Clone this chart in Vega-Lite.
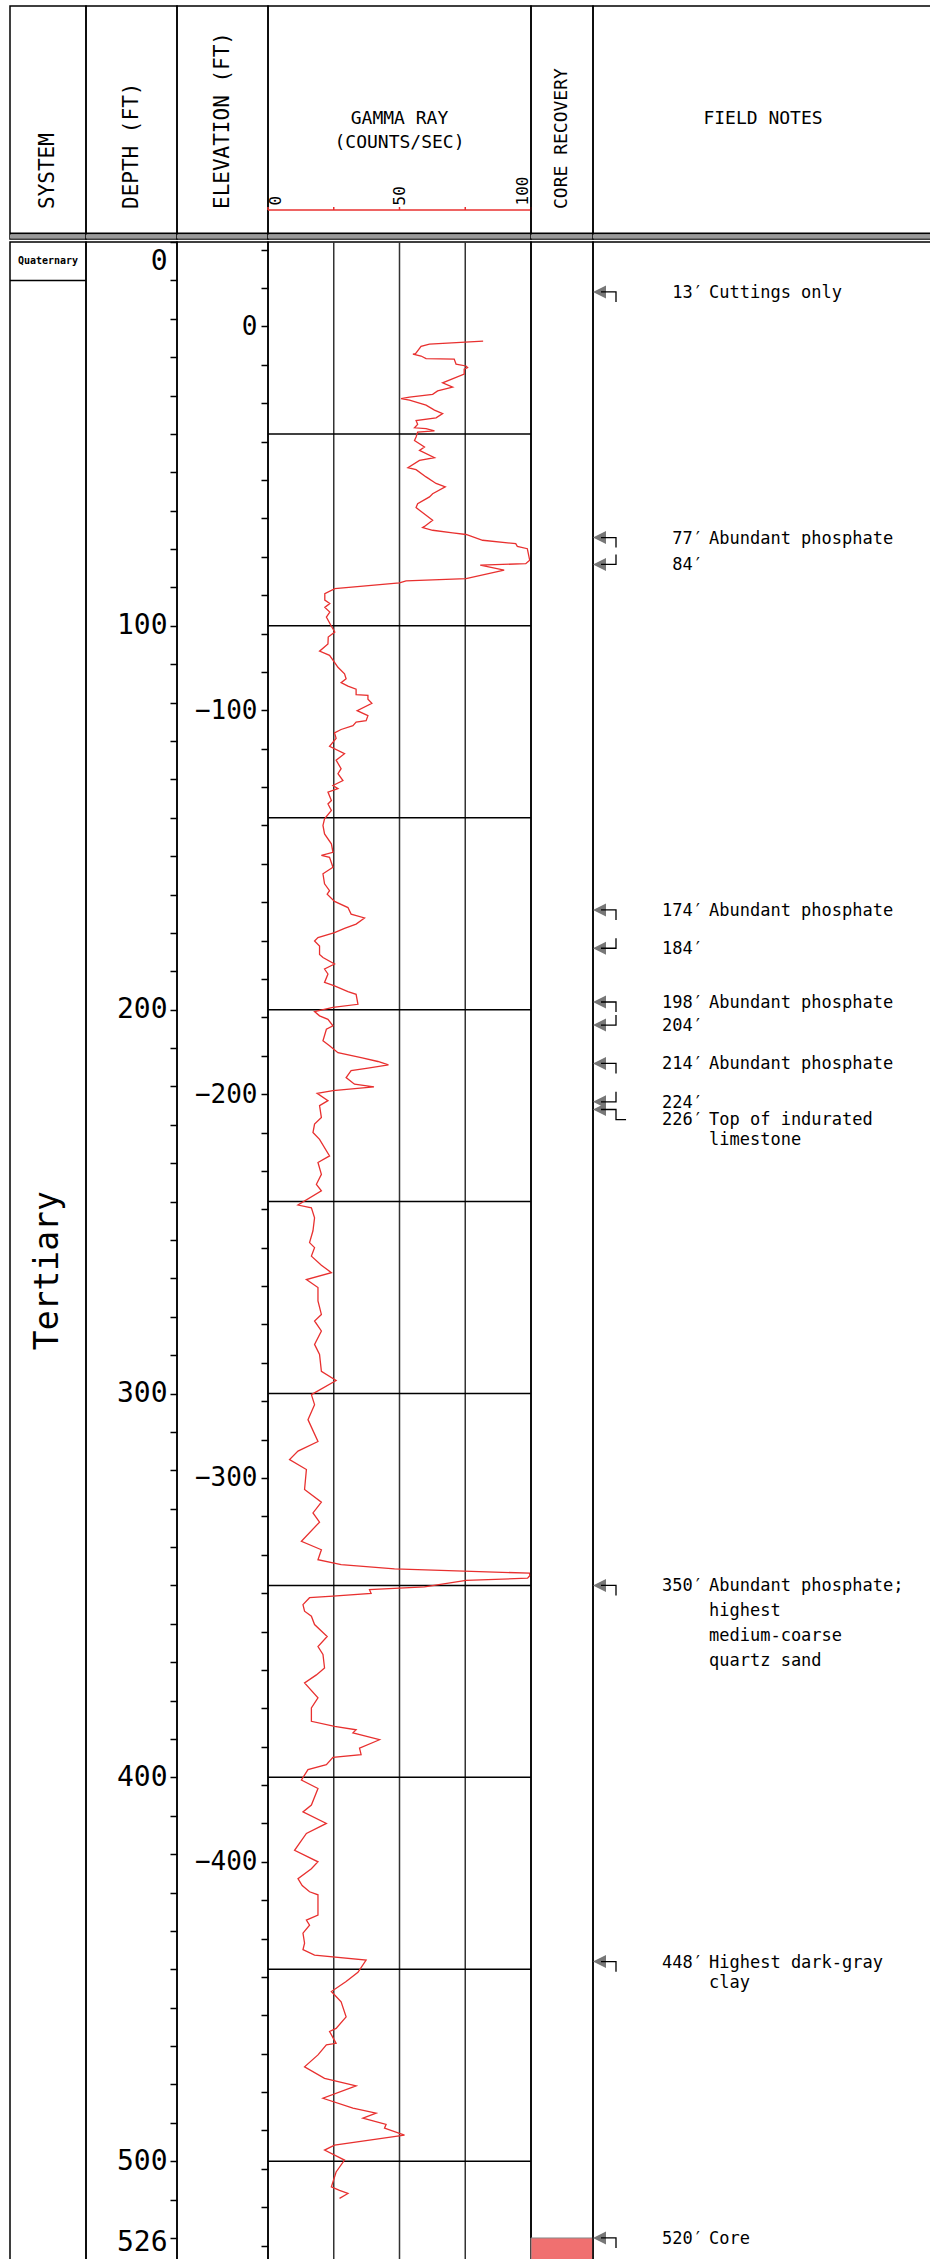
{
  "$schema": "https://vega.github.io/schema/vega-lite/v6.json",
  "padding": {"left": 7, "top": 5, "right": 0, "bottom": 2},
  "background": "white",
  "config": {
    "view": {"stroke": "black", "strokeWidth": 1.5},
    "font": "DejaVu Sans Mono",
    "text": {"font": "DejaVu Sans Mono", "color": "black"},
    "axis": {"labelFont": "DejaVu Sans Mono", "labelColor": "black", "tickColor": "black"}
  },
  "data": {"values": [{}]},
  "datasets": {
    "gamma": [
      {"depth": 25.8, "gamma": 81.8}, {"depth": 26.6, "gamma": 61.4}, {"depth": 27.2, "gamma": 58.2}, {"depth": 29.1, "gamma": 56.1},
      {"depth": 29.2, "gamma": 55.1}, {"depth": 29.7, "gamma": 58.2}, {"depth": 30.4, "gamma": 60.1}, {"depth": 30.5, "gamma": 70.8},
      {"depth": 31.8, "gamma": 71.5}, {"depth": 32.3, "gamma": 75.3}, {"depth": 32.7, "gamma": 75.9}, {"depth": 33.1, "gamma": 74.6},
      {"depth": 34.4, "gamma": 74.6}, {"depth": 36.7, "gamma": 66.4}, {"depth": 37.8, "gamma": 70.2}, {"depth": 38.8, "gamma": 64.5},
      {"depth": 39.7, "gamma": 62.6}, {"depth": 40.4, "gamma": 53.8}, {"depth": 40.8, "gamma": 50.6}, {"depth": 41.2, "gamma": 53.8},
      {"depth": 42.5, "gamma": 60.1}, {"depth": 43.8, "gamma": 63.3}, {"depth": 44.7, "gamma": 66.4}, {"depth": 45.8, "gamma": 63.9},
      {"depth": 46.5, "gamma": 56.3}, {"depth": 47.5, "gamma": 56.9}, {"depth": 48.4, "gamma": 55.7}, {"depth": 48.6, "gamma": 60.1},
      {"depth": 49.2, "gamma": 63.3}, {"depth": 49.5, "gamma": 56.9}, {"depth": 50.8, "gamma": 56.3}, {"depth": 51.7, "gamma": 55.7},
      {"depth": 53.4, "gamma": 59.5}, {"depth": 54.3, "gamma": 57.6}, {"depth": 56.2, "gamma": 63.3}, {"depth": 56.9, "gamma": 57.6},
      {"depth": 58.8, "gamma": 53.2}, {"depth": 59.3, "gamma": 56.3}, {"depth": 61.2, "gamma": 60.1}, {"depth": 62.9, "gamma": 63.9},
      {"depth": 63.8, "gamma": 67.4}, {"depth": 65.6, "gamma": 62.6}, {"depth": 66.4, "gamma": 61.4}, {"depth": 68.2, "gamma": 56.9},
      {"depth": 69.2, "gamma": 56.3}, {"depth": 71.2, "gamma": 60.1}, {"depth": 72.5, "gamma": 62.6}, {"depth": 74.1, "gamma": 59.5},
      {"depth": 74.4, "gamma": 58.8}, {"depth": 75.1, "gamma": 62.6}, {"depth": 75.8, "gamma": 70.2}, {"depth": 76.2, "gamma": 75.3},
      {"depth": 77.7, "gamma": 81.6}, {"depth": 78.6, "gamma": 94.2}, {"depth": 79.3, "gamma": 94.8}, {"depth": 79.9, "gamma": 98.6},
      {"depth": 82.9, "gamma": 99.5}, {"depth": 83.8, "gamma": 98.0}, {"depth": 84.2, "gamma": 80.7}, {"depth": 85.5, "gamma": 89.8},
      {"depth": 87.7, "gamma": 75.3}, {"depth": 88.3, "gamma": 52.5}, {"depth": 88.8, "gamma": 50.0}, {"depth": 90.3, "gamma": 25.4},
      {"depth": 91.6, "gamma": 21.6}, {"depth": 93.3, "gamma": 21.6}, {"depth": 94.2, "gamma": 23.5}, {"depth": 95.2, "gamma": 21.6},
      {"depth": 96.4, "gamma": 23.5}, {"depth": 97.7, "gamma": 22.2}, {"depth": 100.1, "gamma": 24.1}, {"depth": 101.6, "gamma": 25.4},
      {"depth": 102.9, "gamma": 22.9}, {"depth": 104.7, "gamma": 22.8}, {"depth": 106.6, "gamma": 19.6}, {"depth": 107.7, "gamma": 23.4},
      {"depth": 109.5, "gamma": 25.3}, {"depth": 110.8, "gamma": 26.6}, {"depth": 112.5, "gamma": 29.1}, {"depth": 113.8, "gamma": 29.7},
      {"depth": 114.8, "gamma": 27.8}, {"depth": 115.7, "gamma": 30.4}, {"depth": 116.5, "gamma": 33.5}, {"depth": 117.9, "gamma": 33.5},
      {"depth": 118.1, "gamma": 38.0}, {"depth": 119.1, "gamma": 38.0}, {"depth": 120.2, "gamma": 39.5}, {"depth": 122.1, "gamma": 33.9},
      {"depth": 123.4, "gamma": 38.0}, {"depth": 124.7, "gamma": 37.3}, {"depth": 125.1, "gamma": 33.5}, {"depth": 126.0, "gamma": 32.3},
      {"depth": 127.0, "gamma": 27.8}, {"depth": 127.9, "gamma": 25.3}, {"depth": 129.3, "gamma": 25.9}, {"depth": 131.4, "gamma": 23.4},
      {"depth": 133.3, "gamma": 29.1}, {"depth": 135.0, "gamma": 25.9}, {"depth": 137.2, "gamma": 27.8}, {"depth": 138.5, "gamma": 26.6},
      {"depth": 140.3, "gamma": 28.5}, {"depth": 141.6, "gamma": 24.7}, {"depth": 142.4, "gamma": 26.6}, {"depth": 143.3, "gamma": 22.8},
      {"depth": 145.5, "gamma": 24.1}, {"depth": 146.4, "gamma": 22.8}, {"depth": 148.1, "gamma": 24.1}, {"depth": 150.3, "gamma": 21.5},
      {"depth": 152.0, "gamma": 20.9}, {"depth": 154.2, "gamma": 21.5}, {"depth": 156.8, "gamma": 24.1}, {"depth": 159.0, "gamma": 24.7},
      {"depth": 159.8, "gamma": 20.3}, {"depth": 160.3, "gamma": 23.4}, {"depth": 162.9, "gamma": 24.7}, {"depth": 164.6, "gamma": 20.9},
      {"depth": 167.2, "gamma": 21.5}, {"depth": 169.0, "gamma": 23.4}, {"depth": 169.9, "gamma": 22.5}, {"depth": 171.8, "gamma": 25.3},
      {"depth": 173.4, "gamma": 30.4}, {"depth": 175.1, "gamma": 31.6}, {"depth": 176.1, "gamma": 36.7}, {"depth": 177.7, "gamma": 33.5},
      {"depth": 178.8, "gamma": 29.1}, {"depth": 179.9, "gamma": 25.3}, {"depth": 181.2, "gamma": 19.0}, {"depth": 182.1, "gamma": 17.7},
      {"depth": 183.4, "gamma": 19.6}, {"depth": 185.6, "gamma": 19.6}, {"depth": 186.4, "gamma": 20.9}, {"depth": 188.1, "gamma": 25.3},
      {"depth": 189.4, "gamma": 21.5}, {"depth": 190.7, "gamma": 22.8}, {"depth": 192.9, "gamma": 21.5}, {"depth": 193.8, "gamma": 25.3},
      {"depth": 195.3, "gamma": 30.4}, {"depth": 196.0, "gamma": 33.5}, {"depth": 198.6, "gamma": 34.2}, {"depth": 199.4, "gamma": 24.7},
      {"depth": 200.5, "gamma": 17.7}, {"depth": 201.6, "gamma": 19.6}, {"depth": 202.5, "gamma": 22.8}, {"depth": 204.2, "gamma": 24.7},
      {"depth": 205.1, "gamma": 22.2}, {"depth": 208.1, "gamma": 20.9}, {"depth": 209.4, "gamma": 23.4}, {"depth": 211.2, "gamma": 26.6},
      {"depth": 212.5, "gamma": 35.4}, {"depth": 213.5, "gamma": 41.8}, {"depth": 214.4, "gamma": 45.8}, {"depth": 215.2, "gamma": 38.0},
      {"depth": 215.9, "gamma": 31.6}, {"depth": 217.7, "gamma": 29.7}, {"depth": 219.4, "gamma": 32.9}, {"depth": 220.1, "gamma": 40.3},
      {"depth": 221.1, "gamma": 24.7}, {"depth": 221.8, "gamma": 18.7}, {"depth": 223.7, "gamma": 22.8}, {"depth": 225.0, "gamma": 19.6},
      {"depth": 228.1, "gamma": 20.3}, {"depth": 229.8, "gamma": 17.7}, {"depth": 232.0, "gamma": 17.1}, {"depth": 233.8, "gamma": 19.6},
      {"depth": 238.1, "gamma": 23.4}, {"depth": 239.8, "gamma": 19.0}, {"depth": 242.9, "gamma": 20.3}, {"depth": 245.5, "gamma": 18.4},
      {"depth": 247.2, "gamma": 20.3}, {"depth": 250.9, "gamma": 11.4}, {"depth": 251.6, "gamma": 16.5}, {"depth": 254.2, "gamma": 17.7},
      {"depth": 257.6, "gamma": 17.1}, {"depth": 260.7, "gamma": 15.8}, {"depth": 262.0, "gamma": 17.7}, {"depth": 264.2, "gamma": 16.5},
      {"depth": 266.6, "gamma": 20.3}, {"depth": 268.5, "gamma": 24.1}, {"depth": 270.3, "gamma": 14.6}, {"depth": 272.4, "gamma": 19.0},
      {"depth": 275.9, "gamma": 19.0}, {"depth": 279.4, "gamma": 20.3}, {"depth": 281.1, "gamma": 17.7}, {"depth": 283.7, "gamma": 20.3},
      {"depth": 287.2, "gamma": 17.7}, {"depth": 289.8, "gamma": 19.6}, {"depth": 294.2, "gamma": 20.3}, {"depth": 296.6, "gamma": 25.9},
      {"depth": 300.3, "gamma": 16.5}, {"depth": 302.9, "gamma": 17.7}, {"depth": 306.8, "gamma": 15.2}, {"depth": 312.5, "gamma": 19.0},
      {"depth": 315.0, "gamma": 11.4}, {"depth": 317.2, "gamma": 8.2}, {"depth": 319.8, "gamma": 14.6}, {"depth": 325.0, "gamma": 13.9},
      {"depth": 328.3, "gamma": 20.3}, {"depth": 331.1, "gamma": 17.1}, {"depth": 333.5, "gamma": 19.6}, {"depth": 338.5, "gamma": 12.7},
      {"depth": 340.7, "gamma": 20.3}, {"depth": 343.3, "gamma": 19.0}, {"depth": 344.6, "gamma": 27.8}, {"depth": 345.7, "gamma": 48.1},
      {"depth": 346.8, "gamma": 99.4}, {"depth": 347.4, "gamma": 99.6}, {"depth": 348.1, "gamma": 98.7}, {"depth": 348.7, "gamma": 75.3},
      {"depth": 350.4, "gamma": 59.5}, {"depth": 351.1, "gamma": 38.6}, {"depth": 352.1, "gamma": 39.2}, {"depth": 352.8, "gamma": 24.7},
      {"depth": 353.2, "gamma": 15.8}, {"depth": 355.0, "gamma": 13.3}, {"depth": 356.7, "gamma": 13.9}, {"depth": 358.0, "gamma": 16.5},
      {"depth": 360.2, "gamma": 17.7}, {"depth": 363.3, "gamma": 22.5}, {"depth": 365.9, "gamma": 19.0}, {"depth": 368.0, "gamma": 20.9},
      {"depth": 371.5, "gamma": 21.5}, {"depth": 373.3, "gamma": 18.4}, {"depth": 375.4, "gamma": 13.9}, {"depth": 379.3, "gamma": 19.0},
      {"depth": 381.9, "gamma": 16.5}, {"depth": 385.4, "gamma": 16.5}, {"depth": 386.7, "gamma": 25.3}, {"depth": 387.6, "gamma": 33.5},
      {"depth": 388.4, "gamma": 32.3}, {"depth": 390.2, "gamma": 42.4}, {"depth": 392.4, "gamma": 34.8}, {"depth": 394.1, "gamma": 35.4},
      {"depth": 394.8, "gamma": 24.7}, {"depth": 396.7, "gamma": 22.2}, {"depth": 398.0, "gamma": 15.2}, {"depth": 400.7, "gamma": 12.7},
      {"depth": 402.9, "gamma": 19.0}, {"depth": 407.2, "gamma": 16.5}, {"depth": 409.0, "gamma": 13.3}, {"depth": 412.0, "gamma": 22.2},
      {"depth": 414.6, "gamma": 14.6}, {"depth": 419.0, "gamma": 10.1}, {"depth": 422.0, "gamma": 19.0}, {"depth": 423.8, "gamma": 16.5},
      {"depth": 426.4, "gamma": 11.4}, {"depth": 428.2, "gamma": 13.0}, {"depth": 429.8, "gamma": 15.8}, {"depth": 430.6, "gamma": 19.0},
      {"depth": 435.9, "gamma": 19.0}, {"depth": 437.2, "gamma": 14.6}, {"depth": 438.5, "gamma": 15.8}, {"depth": 440.6, "gamma": 13.3},
      {"depth": 443.2, "gamma": 13.9}, {"depth": 444.9, "gamma": 13.3}, {"depth": 446.3, "gamma": 17.7}, {"depth": 447.6, "gamma": 37.3},
      {"depth": 450.8, "gamma": 34.2}, {"depth": 453.2, "gamma": 29.7}, {"depth": 455.8, "gamma": 24.1}, {"depth": 458.5, "gamma": 27.8},
      {"depth": 462.4, "gamma": 29.7}, {"depth": 465.4, "gamma": 25.9}, {"depth": 466.2, "gamma": 23.4}, {"depth": 469.3, "gamma": 25.9},
      {"depth": 469.7, "gamma": 22.2}, {"depth": 472.3, "gamma": 19.0}, {"depth": 475.4, "gamma": 13.9}, {"depth": 478.4, "gamma": 21.5},
      {"depth": 480.4, "gamma": 33.5}, {"depth": 483.6, "gamma": 20.9}, {"depth": 486.2, "gamma": 32.3}, {"depth": 487.5, "gamma": 41.1},
      {"depth": 488.8, "gamma": 36.1}, {"depth": 490.4, "gamma": 44.9}, {"depth": 491.4, "gamma": 44.3}, {"depth": 493.2, "gamma": 51.9},
      {"depth": 495.8, "gamma": 25.3}, {"depth": 497.1, "gamma": 21.5}, {"depth": 499.7, "gamma": 29.1}, {"depth": 502.8, "gamma": 25.9},
      {"depth": 506.7, "gamma": 24.1}, {"depth": 507.6, "gamma": 27.2}, {"depth": 508.4, "gamma": 30.4}, {"depth": 509.7, "gamma": 27.2}
    ],
    "notes": [
      {"depth": 13, "kind": "top", "label": "13′", "note": ["Cuttings only"]},
      {"depth": 77, "kind": "top", "label": "77′", "note": ["Abundant phosphate"]},
      {"depth": 84, "kind": "bottom", "label": "84′", "note": [""]},
      {"depth": 174, "kind": "top", "label": "174′", "note": ["Abundant phosphate"]},
      {"depth": 184, "kind": "bottom", "label": "184′", "note": [""]},
      {"depth": 198, "kind": "top", "label": "198′", "note": ["Abundant phosphate"]},
      {"depth": 204, "kind": "bottom", "label": "204′", "note": [""]},
      {"depth": 214, "kind": "top", "label": "214′", "note": ["Abundant phosphate"]},
      {"depth": 224, "kind": "bottom", "label": "224′", "note": [""]},
      {"depth": 226, "kind": "offset", "label": "226′", "note": ["Top of indurated", "limestone"]},
      {"depth": 350, "kind": "top", "label": "350′", "note": ["Abundant phosphate;", "highest", "medium-coarse", "quartz sand"]},
      {"depth": 448, "kind": "top", "label": "448′", "note": ["Highest dark-gray", "clay"]},
      {"depth": 520, "kind": "top", "label": "520′", "note": ["Core"]}
    ]
  },
  "spacing": 0,
  "vconcat": [
    {
      "spacing": 0,
      "bounds": "flush",
      "hconcat": [
        {
          "width": 76, "height": 233,
          "layer": [
            {"mark": {"type": "text", "text": "SYSTEM", "angle": 270, "align": "left", "baseline": "middle", "fontSize": 21},
             "encoding": {"y": {"datum": 203, "type": "quantitative", "scale": {"domain": [0, 233], "reverse": true, "nice": false, "zero": false}, "axis": null}}},
            {"mark": {"type": "rule", "color": "black", "strokeWidth": 2}, "encoding": {"y": {"datum": 227.5, "type": "quantitative"}}},
            {"mark": {"type": "rule", "color": "#999999", "strokeWidth": 4}, "encoding": {"y": {"datum": 230.5, "type": "quantitative"}}}
          ]
        },
        {
          "width": 91, "height": 233,
          "layer": [
            {"mark": {"type": "text", "text": "DEPTH (FT)", "angle": 270, "align": "left", "baseline": "middle", "fontSize": 21},
             "encoding": {"y": {"datum": 203, "type": "quantitative", "scale": {"domain": [0, 233], "reverse": true, "nice": false, "zero": false}, "axis": null}}},
            {"mark": {"type": "rule", "color": "black", "strokeWidth": 2}, "encoding": {"y": {"datum": 227.5, "type": "quantitative"}}},
            {"mark": {"type": "rule", "color": "#999999", "strokeWidth": 4}, "encoding": {"y": {"datum": 230.5, "type": "quantitative"}}}
          ]
        },
        {
          "width": 91, "height": 233,
          "layer": [
            {"mark": {"type": "text", "text": "ELEVATION (FT)", "angle": 270, "align": "left", "baseline": "middle", "fontSize": 21},
             "encoding": {"y": {"datum": 203, "type": "quantitative", "scale": {"domain": [0, 233], "reverse": true, "nice": false, "zero": false}, "axis": null}}},
            {"mark": {"type": "rule", "color": "black", "strokeWidth": 2}, "encoding": {"y": {"datum": 227.5, "type": "quantitative"}}},
            {"mark": {"type": "rule", "color": "#999999", "strokeWidth": 4}, "encoding": {"y": {"datum": 230.5, "type": "quantitative"}}}
          ]
        },
        {
          "width": 263, "height": 233,
          "layer": [
            {"mark": {"type": "text", "text": "GAMMA RAY", "align": "center", "baseline": "middle", "fontSize": 18},
             "encoding": {"y": {"datum": 113, "type": "quantitative", "scale": {"domain": [0, 233], "reverse": true, "nice": false, "zero": false}, "axis": null}}},
            {"mark": {"type": "text", "text": "(COUNTS/SEC)", "align": "center", "baseline": "middle", "fontSize": 18},
             "encoding": {"y": {"datum": 137, "type": "quantitative"}}},
            {"mark": {"type": "rule", "color": "#e8302f", "strokeWidth": 1.5},
             "encoding": {"x": {"datum": 0, "type": "quantitative", "scale": {"domain": [0, 100], "nice": false, "zero": false}, "axis": null}, "x2": {"datum": 100}, "y": {"datum": 204, "type": "quantitative"}}},
            {"data": {"values": [{"v": 0}, {"v": 25}, {"v": 50}, {"v": 75}, {"v": 100}]},
             "mark": {"type": "rule", "color": "#e8302f", "strokeWidth": 1.5},
             "encoding": {"x": {"field": "v", "type": "quantitative"}, "y": {"datum": 201, "type": "quantitative"}, "y2": {"datum": 204}}},
            {"mark": {"type": "text", "text": "0", "angle": 270, "align": "left", "baseline": "top", "fontSize": 16},
             "encoding": {"x": {"datum": 0, "type": "quantitative"}, "y": {"datum": 199.5, "type": "quantitative"}}},
            {"mark": {"type": "text", "text": "50", "angle": 270, "align": "left", "baseline": "middle", "fontSize": 16},
             "encoding": {"x": {"datum": 50, "type": "quantitative"}, "y": {"datum": 199.5, "type": "quantitative"}}},
            {"mark": {"type": "text", "text": "100", "angle": 270, "align": "left", "baseline": "bottom", "fontSize": 16},
             "encoding": {"x": {"datum": 100, "type": "quantitative"}, "y": {"datum": 199.5, "type": "quantitative"}}},
            {"mark": {"type": "rule", "color": "black", "strokeWidth": 2}, "encoding": {"y": {"datum": 227.5, "type": "quantitative"}}},
            {"mark": {"type": "rule", "color": "#999999", "strokeWidth": 4}, "encoding": {"y": {"datum": 230.5, "type": "quantitative"}}}
          ]
        },
        {
          "width": 62, "height": 233,
          "layer": [
            {"mark": {"type": "text", "text": "CORE RECOVERY", "angle": 270, "align": "left", "baseline": "middle", "fontSize": 18},
             "encoding": {"y": {"datum": 203, "type": "quantitative", "scale": {"domain": [0, 233], "reverse": true, "nice": false, "zero": false}, "axis": null}}},
            {"mark": {"type": "rule", "color": "black", "strokeWidth": 2}, "encoding": {"y": {"datum": 227.5, "type": "quantitative"}}},
            {"mark": {"type": "rule", "color": "#999999", "strokeWidth": 4}, "encoding": {"y": {"datum": 230.5, "type": "quantitative"}}}
          ]
        },
        {
          "width": 340, "height": 233,
          "layer": [
            {"mark": {"type": "text", "text": "FIELD NOTES", "align": "center", "baseline": "middle", "fontSize": 18},
             "encoding": {"y": {"datum": 113, "type": "quantitative", "scale": {"domain": [0, 233], "reverse": true, "nice": false, "zero": false}, "axis": null}}},
            {"mark": {"type": "rule", "color": "black", "strokeWidth": 2}, "encoding": {"y": {"datum": 227.5, "type": "quantitative"}}},
            {"mark": {"type": "rule", "color": "#999999", "strokeWidth": 4}, "encoding": {"y": {"datum": 230.5, "type": "quantitative"}}}
          ]
        }
      ]
    },
    {
      "spacing": 0,
      "bounds": "flush",
      "hconcat": [
        {
          "width": 76, "height": 2019,
          "layer": [
            {"mark": {"type": "rule", "color": "black", "strokeWidth": 1.5},
             "encoding": {"y": {"datum": 10, "type": "quantitative", "scale": {"domain": [0, 526], "reverse": true, "nice": false, "zero": false}, "axis": null}}},
            {"mark": {"type": "text", "text": "Quaternary", "fontSize": 10, "fontWeight": "bold", "align": "center", "baseline": "middle"},
             "encoding": {"y": {"datum": 5, "type": "quantitative"}}},
            {"mark": {"type": "text", "text": "Tertiary", "fontSize": 33, "angle": 270, "align": "center", "baseline": "middle"},
             "encoding": {"y": {"datum": 268, "type": "quantitative"}}}
          ]
        },
        {
          "width": 91, "height": 2019,
          "mark": {"type": "rule", "opacity": 0},
          "encoding": {
            "y": {"datum": 0, "type": "quantitative",
                  "scale": {"domain": [0, 526], "reverse": true, "nice": false, "zero": false},
                  "axis": {"orient": "left", "offset": -91, "title": null, "domain": false, "grid": false,
                           "values": [0,10,20,30,40,50,60,70,80,90,100,110,120,130,140,150,160,170,180,190,200,210,220,230,240,250,260,270,280,290,300,310,320,330,340,350,360,370,380,390,400,410,420,430,440,450,460,470,480,490,500,510,520,526],
                           "format": "d",
                           "labelExpr": "(datum.value % 100 === 0 || datum.value === 526) ? datum.label : ''",
                           "labelFontSize": {"condition": {"test": "datum.value % 100 === 0 || datum.value === 526", "value": 28}, "value": 0},
                           "tickSize": 7, "tickWidth": 1.5, "labelPadding": 3,
                           "labelFlush": true, "labelFlushOffset": -5, "labelOverlap": false, "labelBound": false}}
          }
        },
        {
          "width": 91, "height": 2019,
          "mark": {"type": "rule", "opacity": 0},
          "encoding": {
            "y": {"datum": 0, "type": "quantitative",
                  "scale": {"domain": [-504, 22], "nice": false, "zero": false},
                  "axis": {"orient": "left", "offset": -91, "title": null, "domain": false, "grid": false,
                           "values": [20,10,0,-10,-20,-30,-40,-50,-60,-70,-80,-90,-100,-110,-120,-130,-140,-150,-160,-170,-180,-190,-200,-210,-220,-230,-240,-250,-260,-270,-280,-290,-300,-310,-320,-330,-340,-350,-360,-370,-380,-390,-400,-410,-420,-430,-440,-450,-460,-470,-480,-490,-500],
                           "format": "d",
                           "labelExpr": "(datum.value % 100 === 0 && datum.value > -500) ? datum.label : ''",
                           "labelFontSize": {"condition": {"test": "datum.value % 100 === 0 && datum.value > -500", "value": 26}, "value": 0},
                           "tickSize": 7, "tickWidth": 1.5, "labelPadding": 4,
                           "labelFlush": false, "labelOverlap": false, "labelBound": false}}
          }
        },
        {
          "width": 263, "height": 2019,
          "layer": [
            {"data": {"values": [{"g": 25}, {"g": 50}, {"g": 75}]},
             "mark": {"type": "rule", "color": "#333333", "strokeWidth": 1.5},
             "encoding": {"x": {"field": "g", "type": "quantitative", "scale": {"domain": [0, 100], "nice": false, "zero": false}, "axis": null}}},
            {"data": {"values": [{"d": 50}, {"d": 100}, {"d": 150}, {"d": 200}, {"d": 250}, {"d": 300}, {"d": 350}, {"d": 400}, {"d": 450}, {"d": 500}]},
             "mark": {"type": "rule", "color": "black", "strokeWidth": 1.5},
             "encoding": {"y": {"field": "d", "type": "quantitative", "scale": {"domain": [0, 526], "reverse": true, "nice": false, "zero": false}, "axis": null}}},
            {"data": {"name": "gamma"},
             "mark": {"type": "line", "color": "#e8302f", "strokeWidth": 1.3},
             "encoding": {
               "x": {"field": "gamma", "type": "quantitative"},
               "y": {"field": "depth", "type": "quantitative"},
               "order": {"field": "depth", "type": "quantitative"}
             }}
          ]
        },
        {
          "width": 62, "height": 2019,
          "data": {"values": [{"top": 520, "base": 526}]},
          "mark": {"type": "rect", "fill": "#f07070", "stroke": "#888888", "strokeWidth": 1},
          "encoding": {
            "y": {"field": "top", "type": "quantitative", "scale": {"domain": [0, 526], "reverse": true, "nice": false, "zero": false}, "axis": null},
            "y2": {"field": "base"}
          }
        },
        {
          "width": 340, "height": 2019,
          "data": {"name": "notes"},
          "layer": [
            {"mark": {"type": "point", "shape": "M -1 0 L 1 -1 L 1 1 Z", "filled": true, "fill": "#777777", "strokeWidth": 0, "size": 169, "opacity": 1},
             "encoding": {
               "x": {"datum": 6.5, "type": "quantitative", "scale": {"domain": [0, 340], "nice": false, "zero": false}, "axis": null},
               "y": {"field": "depth", "type": "quantitative", "scale": {"domain": [0, 526], "reverse": true, "nice": false, "zero": false}, "axis": null}
             }},
            {"mark": {"type": "point", "filled": false, "stroke": "black", "strokeWidth": 1.3, "size": 900, "opacity": 1},
             "encoding": {
               "x": {"datum": 15.5, "type": "quantitative"},
               "y": {"field": "depth", "type": "quantitative"},
               "shape": {"field": "kind", "type": "nominal", "legend": null,
                         "scale": {"domain": ["top", "bottom", "offset"],
                                   "range": ["M -0.5 0 L 0.5 0 L 0.5 0.67", "M -0.5 0 L 0.5 0 L 0.5 -0.67", "M -0.5 0 L 0.5 0 L 0.5 0.67 L 1.17 0.67"]}}
             }},
            {"transform": [{"filter": "datum.kind != 'offset'"}],
             "mark": {"type": "text", "align": "right", "baseline": "top", "dy": -7, "fontSize": 17},
             "encoding": {"x": {"datum": 110, "type": "quantitative"}, "y": {"field": "depth", "type": "quantitative"}, "text": {"field": "label", "type": "nominal"}}},
            {"transform": [{"filter": "datum.kind != 'offset' && datum.depth != 350"}],
             "mark": {"type": "text", "align": "left", "baseline": "top", "dy": -7, "fontSize": 17, "lineHeight": 20},
             "encoding": {"x": {"datum": 116, "type": "quantitative"}, "y": {"field": "depth", "type": "quantitative"}, "text": {"field": "note", "type": "nominal"}}},
            {"transform": [{"filter": "datum.depth == 350"}],
             "mark": {"type": "text", "align": "left", "baseline": "top", "dy": -7, "fontSize": 17, "lineHeight": 25},
             "encoding": {"x": {"datum": 116, "type": "quantitative"}, "y": {"field": "depth", "type": "quantitative"}, "text": {"field": "note", "type": "nominal"}}},
            {"transform": [{"filter": "datum.kind == 'offset'"}],
             "mark": {"type": "text", "align": "right", "baseline": "top", "dy": 3, "fontSize": 17},
             "encoding": {"x": {"datum": 110, "type": "quantitative"}, "y": {"field": "depth", "type": "quantitative"}, "text": {"field": "label", "type": "nominal"}}},
            {"transform": [{"filter": "datum.kind == 'offset'"}],
             "mark": {"type": "text", "align": "left", "baseline": "top", "dy": 3, "fontSize": 17, "lineHeight": 20},
             "encoding": {"x": {"datum": 116, "type": "quantitative"}, "y": {"field": "depth", "type": "quantitative"}, "text": {"field": "note", "type": "nominal"}}}
          ]
        }
      ]
    }
  ]
}
